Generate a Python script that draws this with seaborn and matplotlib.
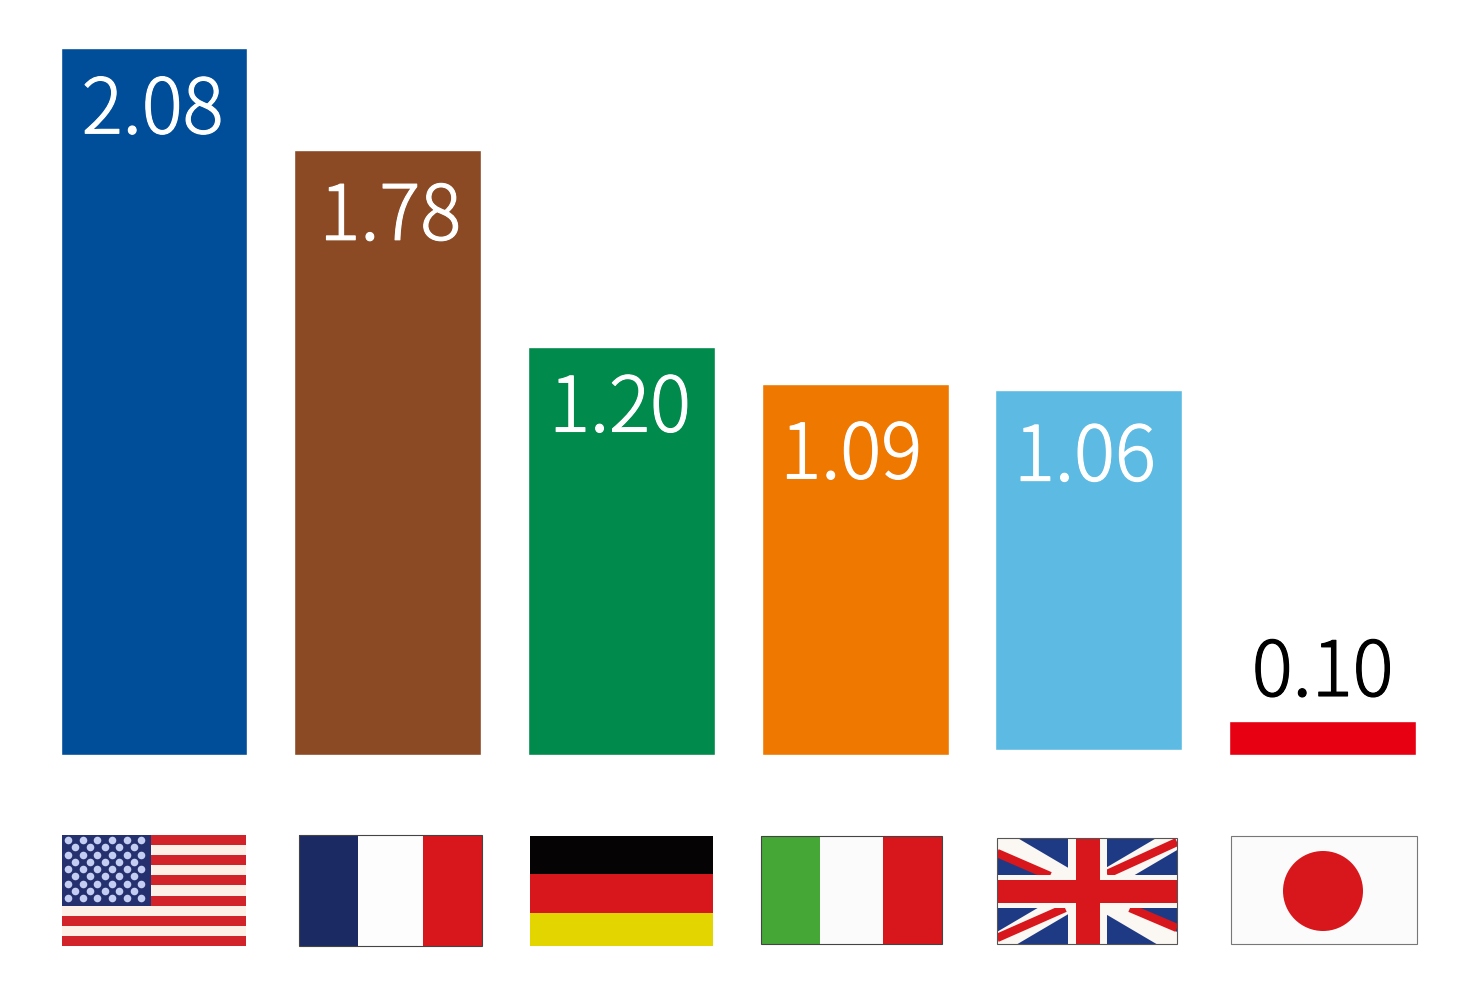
import matplotlib
matplotlib.use('Agg')
import matplotlib.pyplot as plt
import matplotlib.patheffects as pe
from matplotlib.patches import Circle, Rectangle
import pandas as pd
import seaborn as sns

countries = ['USA', 'France', 'Germany', 'Italy', 'UK', 'Japan']
values = [2.08, 1.78, 1.20, 1.09, 1.06, 0.10]
value_labels = ['2.08', '1.78', '1.20', '1.09', '1.06', '0.10']
bar_colors = ['#004e9a', '#8b4a23', '#008a4b', '#ef7800', '#5dbbe3', '#e60012']
label_colors = ['white', 'white', 'white', 'white', 'white', 'black']

FLAG_RED = '#d8171d'
FLAG_NAVY = '#1c2a63'


def box(ax, x0, y0, x1, y1, color, **kw):
    ax.add_patch(Rectangle((x0, y0), x1 - x0, y1 - y0, facecolor=color, edgecolor='none', **kw))


def outline(ax, x0, y0, x1, y1, color='#555555'):
    ax.add_patch(Rectangle((x0, y0), x1 - x0, y1 - y0, facecolor='none', edgecolor=color,
                           linewidth=0.8, zorder=5))


def drawUSA(ax):
    x0, y0, x1, y1 = 62, 835, 246, 946
    h = (y1 - y0) / 11
    for i in range(11):
        box(ax, x0, y0 + i * h, x1, y0 + (i + 1) * h, '#d2232a' if i % 2 == 0 else '#fdf0e6')
    box(ax, x0, y0, 151, y0 + 7 * h, '#25306f')
    star_x, star_y = [], []
    for row in range(9):
        n = 6 if row % 2 == 0 else 5
        for col in range(n):
            star_x.append(68 + col * 14.7 + (0 if row % 2 == 0 else 7.3))
            star_y.append(840 + row * 7.25)
    ax.scatter(star_x, star_y, s=30, color='#c4cdf2', linewidths=0, zorder=3)


def drawThreeBands(ax, x0, y0, x1, y1, splits, colors):
    edges = [x0] + splits + [x1]
    for i in range(3):
        box(ax, edges[i], y0, edges[i + 1], y1, colors[i])
    outline(ax, x0, y0, x1, y1, '#444444')


def drawGermany(ax):
    box(ax, 530, 836, 713, 874, '#060304')
    box(ax, 530, 874, 713, 913, FLAG_RED)
    box(ax, 530, 913, 713, 946, '#e2d500')


def drawUK(ax):
    x0, y0, x1, y1 = 997, 838, 1177, 944
    clip = Rectangle((x0, y0), x1 - x0, y1 - y0, transform=ax.transData)
    box(ax, x0, y0, x1, y1, '#1f3a84')
    for a, b in [((x0, y0), (x1, y1)), ((x0, y1), (x1, y0))]:
        line, = ax.plot([a[0], b[0]], [a[1], b[1]], color='#fbf7f2', lw=15, solid_capstyle='butt')
        line.set_clip_path(clip)
    # thin red diagonals, one per quarter
    for xs, ys in [((997, 1050), (853, 876)), ((1107, 1177), (874, 842)),
                   ((997, 1065), (938, 908)), ((1130, 1177), (908, 928))]:
        line, = ax.plot(xs, ys, color=FLAG_RED, lw=6, solid_capstyle='butt', zorder=3)
        line.set_clip_path(clip)
    box(ax, 1068, y0, 1107, y1, '#fbf7f2', zorder=4)
    box(ax, x0, 875, x1, 908, '#fbf7f2', zorder=4)
    box(ax, 1076, y0, 1100, y1, FLAG_RED, zorder=4)
    box(ax, x0, 880, x1, 903, FLAG_RED, zorder=4)
    outline(ax, x0, y0, x1, y1)


def drawJapan(ax):
    box(ax, 1231, 836, 1417, 944, '#fbfbfb')
    ax.add_patch(Circle((1323, 891), 40, facecolor=FLAG_RED, edgecolor='none'))
    outline(ax, 1231, 836, 1417, 944, '#777777')


def drawFlags(ax):
    drawUSA(ax)
    drawThreeBands(ax, 299, 835, 482, 946, [358, 423], [FLAG_NAVY, '#fdfdfd', FLAG_RED])
    drawGermany(ax)
    drawThreeBands(ax, 761, 836, 942, 944, [820, 883], ['#45a735', '#fbfbfb', FLAG_RED])
    drawUK(ax)
    drawJapan(ax)


def drawBars(ax):
    df = pd.DataFrame({'country': countries, 'value': values})
    sns.barplot(data=df, x='country', y='value', hue='country', palette=bar_colors,
                order=countries, hue_order=countries, width=0.8, dodge=False,
                legend=False, saturation=1, ax=ax)
    step = 233.7
    scale = 340.0
    ax.set_xlim(-154 / step, (1470 - 154) / step)
    ax.set_ylim(-(986 - 755) / scale, 755 / scale)
    # UK bar sits a little higher than the others
    ax.patches[4].set_y(5 / scale)

    # px offsets of the label centres from the bar top centre
    dx = [-1.5, 2.5, -1.5, -4, -4, 0]
    dy = [-55, -59.5, -54, -63.5, -60.5, 55.5]
    for i in range(len(values)):
        top = values[i] + (5 / scale if i == 4 else 0)
        txt = ax.annotate(value_labels[i], xy=(i, top), xytext=(dx[i] * 0.72, dy[i] * 0.72),
                          textcoords='offset points', ha='center', va='center_baseline',
                          color=label_colors[i], fontsize=55, fontweight='light',
                          family=['Noto Sans CJK JP', 'DejaVu Sans'])
        txt.set_path_effects([pe.withStroke(linewidth=0.8, foreground=label_colors[i])])
    ax.axis('off')


if __name__ == '__main__':
    sns.set_style('white')
    fig = plt.figure(figsize=(14.7, 9.86), dpi=100)
    ax = fig.add_axes([0, 0, 1, 1])
    drawBars(ax)

    flag_ax = fig.add_axes([0, 0, 1, 1])
    flag_ax.set_xlim(0, 1470)
    flag_ax.set_ylim(986, 0)
    flag_ax.axis('off')
    drawFlags(flag_ax)

    fig.savefig('out.png', dpi=100)
